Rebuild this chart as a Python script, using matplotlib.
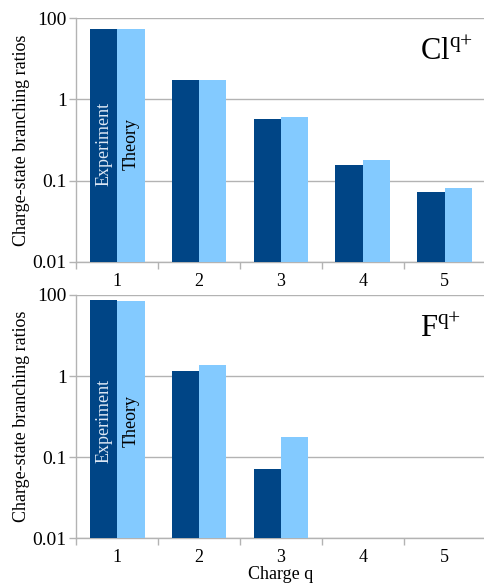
import numpy as np
import matplotlib
matplotlib.use("Agg")
import matplotlib.pyplot as plt

plt.rcParams['font.family'] = ['Liberation Serif', 'DejaVu Serif']
plt.rcParams['mathtext.fontset'] = 'custom'
plt.rcParams['mathtext.rm'] = 'Liberation Serif'

charges = [1, 2, 3, 4, 5]
ytick_vals = [0.01, 0.1, 1, 10]
ytick_labels = ['0.01', '0.1', '1', '100']

# values as drawn on the chart's (log) axis
cl_exp = [7.46, 1.72, 0.578, 0.156, 0.072]
cl_theory = [7.46, 1.72, 0.60, 0.179, 0.081]
f_exp = [8.75, 1.17, 0.0717, np.nan, np.nan]
f_theory = [8.34, 1.38, 0.175, np.nan, np.nan]

dark = '#004586'
light = '#83CAFF'
grid = '#b3b3b3'

fig = plt.figure(figsize=(4.84, 5.84), dpi=100)
ax1 = fig.add_axes([0.158, 0.5519, 0.845, 0.4168])
ax2 = fig.add_axes([0.158, 0.0783, 0.845, 0.4166])

def panel(ax, exp, theo, label):
    x = np.array(charges)
    w = 1 / 3
    ax.bar(x - w / 2, exp, w, color=dark, zorder=3)
    ax.bar(x + w / 2, theo, w, color=light, zorder=3)
    ax.set_yscale('log')
    ax.set_ylim(0.01, 10)
    ax.set_xlim(0.5, 5.5)
    ax.set_yticks(ytick_vals)
    ax.set_yticklabels(ytick_labels, fontsize=14)
    ax.minorticks_off()
    ax.yaxis.grid(True, color=grid, lw=1, zorder=0)
    ax.set_xticks(charges)
    ax.set_xticklabels([str(c) for c in charges], fontsize=13)
    ax.set_xticks([0.5, 1.5, 2.5, 3.5, 4.5, 5.5], minor=True)
    ax.tick_params(axis='x', which='major', length=0, pad=8)
    ax.tick_params(axis='x', which='minor', length=5, color=grid, width=1)
    ax.tick_params(axis='y', length=5, color=grid, width=1, pad=2)
    for s in ['top', 'right']:
        ax.spines[s].set_visible(False)
    for s in ['left', 'bottom']:
        ax.spines[s].set_color(grid)
        ax.spines[s].set_linewidth(1)
    ax.set_ylabel('Charge-state branching ratios', fontsize=13, labelpad=2)
    ax.text(1 - w / 2, 0.28, 'Experiment', rotation=90, ha='center', va='center',
            color='#dde8f5', fontsize=13, zorder=4)
    ax.text(1 + w / 2, 0.28, 'Theory', rotation=90, ha='center', va='center',
            color='black', fontsize=13, zorder=4)
    ax.text(0.839, 0.86, label, transform=ax.transAxes, ha='left', va='center',
            fontsize=22)

panel(ax1, cl_exp, cl_theory, r'$\mathrm{Cl}^{\mathrm{q}{+}}$')
panel(ax2, f_exp, f_theory, r'$\mathrm{F}^{\mathrm{q}{+}}$')
ax2.set_xlabel('Charge q', fontsize=13, labelpad=0)

fig.savefig('out.png', dpi=100)
